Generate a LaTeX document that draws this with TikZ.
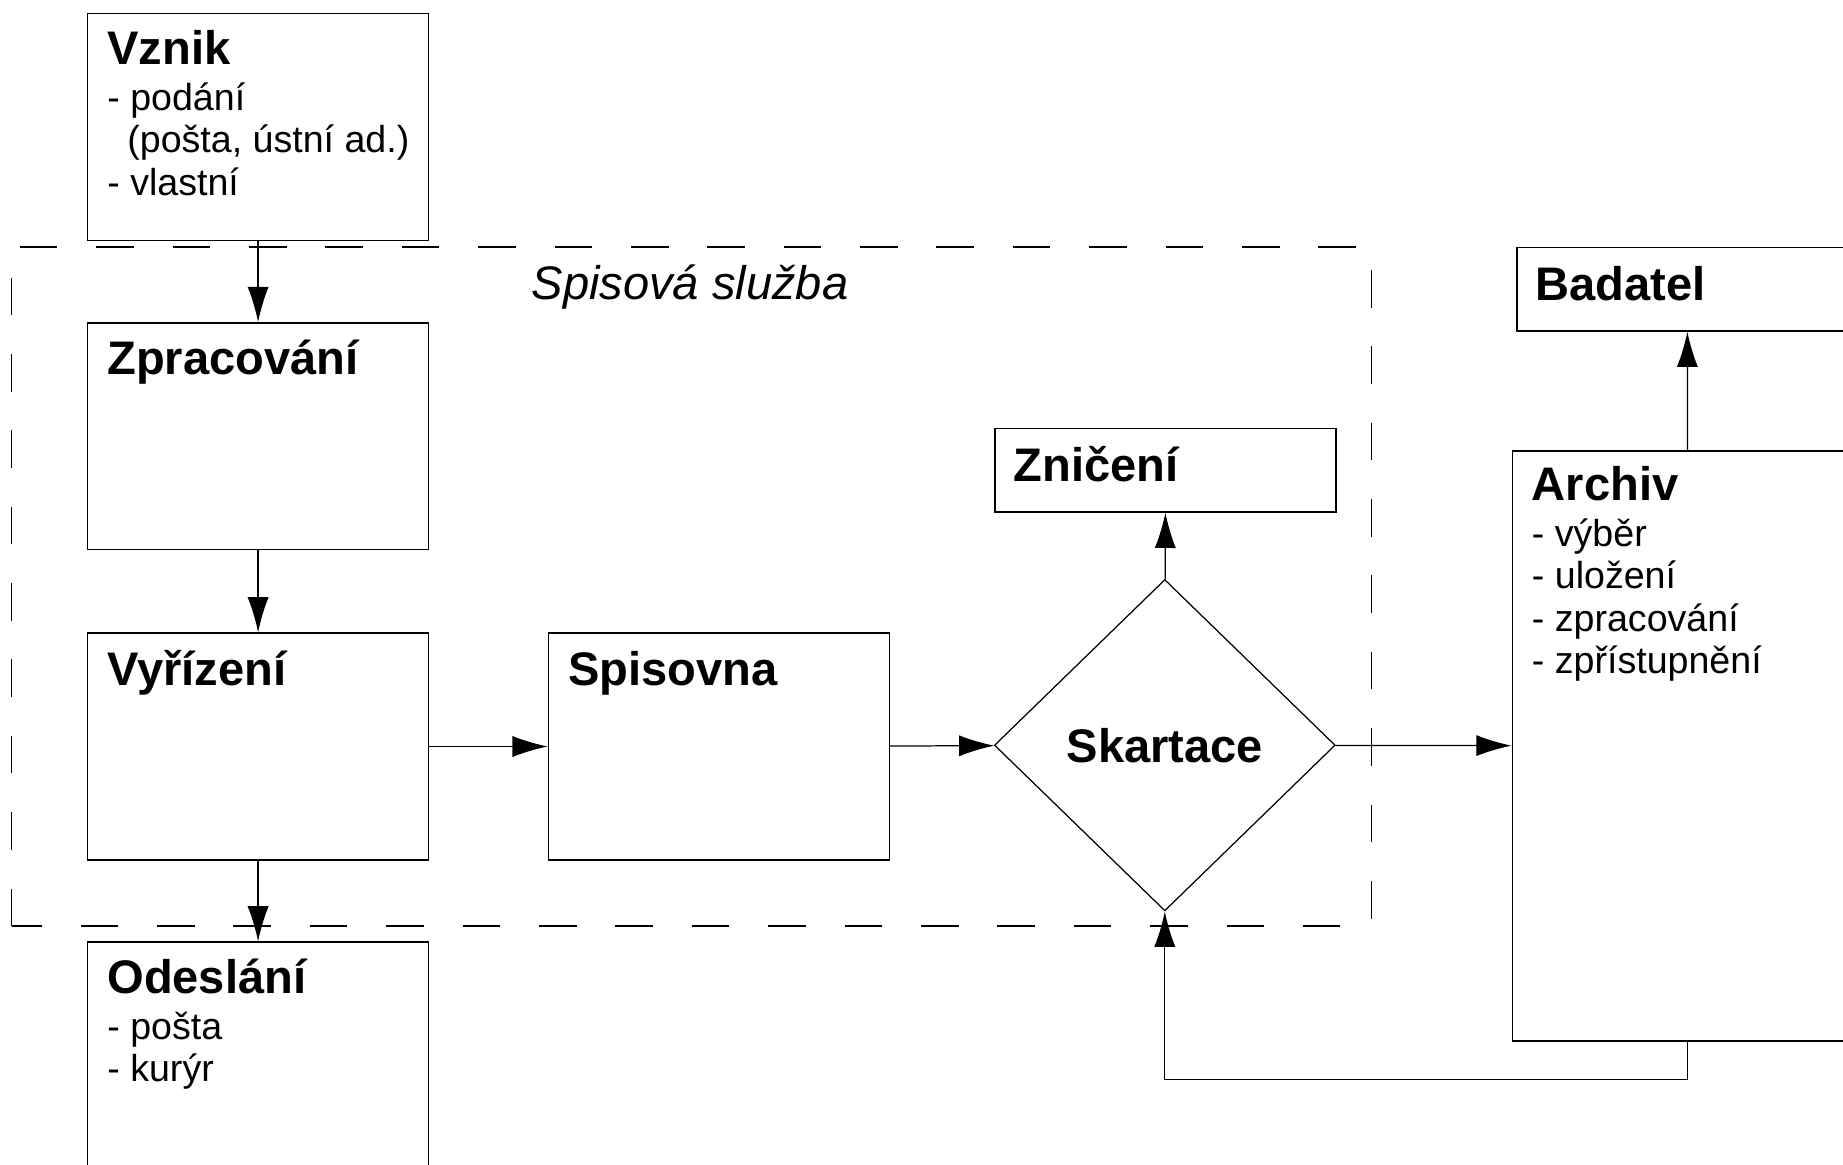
\documentclass[tikz,border=0pt]{standalone}
\usepackage{fontspec}
\setmainfont{Liberation Sans}
\usetikzlibrary{shapes.geometric,arrows.meta}
\newcommand{\titul}{\fontsize{22.8pt}{26pt}\selectfont\bfseries}
\begin{document}
\begin{tikzpicture}[x=0.02cm, y=0.02cm, >={Latex[length=6mm,width=3.6mm]}]

    % styly
    \tikzstyle{blok}=[rectangle, draw, line width=0.7pt, anchor=north west, minimum width=5.8cm, minimum height=3.86cm, inner sep=0pt]
    \tikzstyle{nizky}=[blok, minimum height=1.42cm]
    \tikzstyle{rozhodnuti}=[diamond, draw, line width=0.6pt, minimum width=5.8cm, minimum height=5.64cm, inner sep=0pt, font=\titul]
    \tikzstyle{popis}=[anchor=base west, align=left, inner sep=0pt, font=\fontsize{18.2pt}{20.5pt}\selectfont]
    \tikzstyle{sipka}=[->, line width=0.6pt]
    \tikzstyle{ramec}=[line width=0.7pt, dash pattern=on 0.64cm off 0.66cm]

    \path[use as bounding box, clip] (0,0) rectangle (1568,-991);

    % spisova sluzba
    \draw[ramec] (10,-788) -- (10,-210) -- (1167,-210) -- (1167,-788) -- cycle;
    \node[anchor=base west, inner sep=0pt, font=\fontsize{22.8pt}{26pt}\selectfont\itshape] (spisluzba) at (452,-255) {Spisová služba};

    % bloky
    \node[blok] (vznik) at (74,-11) {};
    \node[blok] (zpracovani) at (74,-274) {};
    \node[blok] (vyrizeni) at (74,-538) {};
    \node[blok] (odeslani) at (74,-801) {};
    \node[blok] (spisovna) at (466,-538) {};
    \node[nizky] (zniceni) at (846,-364) {};
    \node[nizky] (badatel) at (1290,-210) {};
    \node[blok, minimum width=5.96cm, minimum height=10.04cm] (archiv) at (1286,-383) {};
    \node[rozhodnuti] (skartace) at (991,-634) {Skartace};

    % texty (base = posledni radek)
    \node[popis] (vznik-t) at ([shift={(17,-155)}]vznik.north west) {{\titul Vznik}\\[1.6pt]- podání\\\hspace*{0.34cm}(pošta, ústní ad.)\\- vlastní};
    \node[popis] (zpracovani-t) at ([shift={(17,-45)}]zpracovani.north west) {\titul Zpracování};
    \node[popis] (vyrizeni-t) at ([shift={(17,-45)}]vyrizeni.north west) {\titul Vyřízení};
    \node[popis] (odeslani-t) at ([shift={(17,-119)}]odeslani.north west) {{\titul Odeslání}\\[1.6pt]- pošta\\- kurýr};
    \node[popis] (spisovna-t) at ([shift={(17,-45)}]spisovna.north west) {\titul Spisovna};
    \node[popis] (zniceni-t) at ([shift={(16,-46)}]zniceni.north west) {\titul Zničení};
    \node[popis] (badatel-t) at ([shift={(16,-46)}]badatel.north west) {\titul Badatel};
    \node[popis] (archiv-t) at ([shift={(17,-190)}]archiv.north west) {{\titul Archiv}\\[1.6pt]- výběr\\- uložení\\- zpracování\\- zpřístupnění};

    % sipky
    \draw[sipka] (vznik) -- (zpracovani);
    \draw[sipka] (zpracovani) -- (vyrizeni);
    \draw[sipka] (vyrizeni) -- (odeslani);
    \draw[sipka] (vyrizeni) -- (spisovna);
    \draw[sipka] (spisovna) -- (skartace);
    \draw[sipka] (skartace) -- (zniceni);
    \draw[sipka] (skartace) -- (archiv);
    \draw[sipka] (archiv) -- (badatel);
    \draw[sipka] (archiv.south) -- ++(0,-32) -| (skartace.south);

\end{tikzpicture}
\end{document}
